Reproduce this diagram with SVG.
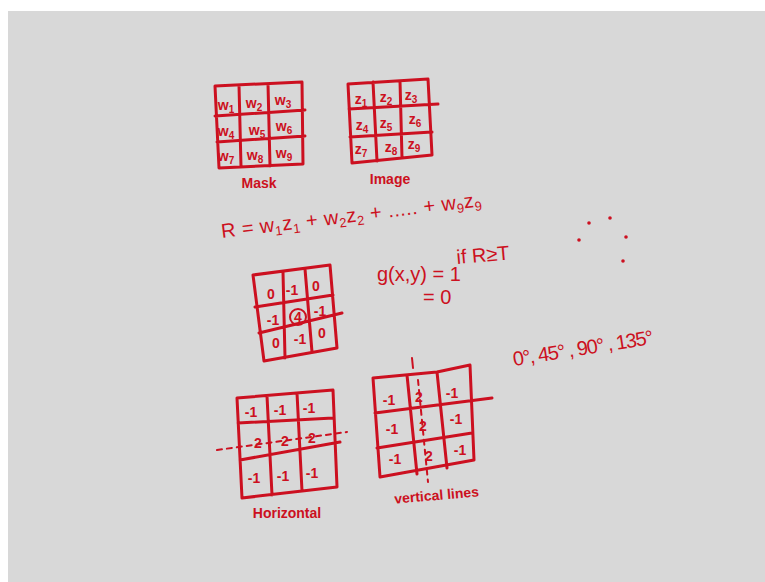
<svg xmlns="http://www.w3.org/2000/svg" width="765" height="582" viewBox="0 0 765 582">
<style>
.ln{fill:none;stroke:#cc1020;stroke-width:3;stroke-linecap:round;stroke-linejoin:round}
.ds{fill:none;stroke:#cc1020;stroke-width:2;stroke-dasharray:5 5;stroke-linecap:round}
.t{fill:#cc1020;font-family:"Liberation Sans",Arial,sans-serif;font-size:14px;text-anchor:middle;font-weight:bold}
.h{fill:#cc1020;font-family:"Liberation Sans",Arial,sans-serif;font-size:20px}
.dot{fill:#cc1020}
</style>
<rect x="0" y="0" width="765" height="582" fill="#ffffff"/>
<rect x="8" y="11" width="757" height="571" fill="#d8d8d8"/>

<g id="mask">
<path class="ln" d="M215,86 L302,82 L303,164 L219,168 Z M239,85 L241,167 M268,84 L270,166 M215,116 L305,110 M217,142 L305,136"/>
<text class="t" x="226" y="110">w<tspan font-size="10" dy="3">1</tspan></text>
<text class="t" x="254" y="108">w<tspan font-size="10" dy="3">2</tspan></text>
<text class="t" x="283" y="105">w<tspan font-size="10" dy="3">3</tspan></text>
<text class="t" x="226" y="136">w<tspan font-size="10" dy="3">4</tspan></text>
<text class="t" x="257" y="135">w<tspan font-size="10" dy="3">5</tspan></text>
<text class="t" x="284" y="131">w<tspan font-size="10" dy="3">6</tspan></text>
<text class="t" x="226" y="161">w<tspan font-size="10" dy="3">7</tspan></text>
<text class="t" x="255" y="160">w<tspan font-size="10" dy="3">8</tspan></text>
<text class="t" x="284" y="158">w<tspan font-size="10" dy="3">9</tspan></text>
<text class="t" x="259" y="188" font-size="15">Mask</text>
</g>

<g id="image">
<path class="ln" d="M348,84 L428,79 L432,155 L352,163 Z M373,82 L377,161 M400,81 L402,158 M349,109 L438,104 M350,137 L432,132"/>
<text class="t" x="361" y="104">z<tspan font-size="10" dy="3">1</tspan></text>
<text class="t" x="386" y="102">z<tspan font-size="10" dy="3">2</tspan></text>
<text class="t" x="411" y="100">z<tspan font-size="10" dy="3">3</tspan></text>
<text class="t" x="362" y="130">z<tspan font-size="10" dy="3">4</tspan></text>
<text class="t" x="386" y="128">z<tspan font-size="10" dy="3">5</tspan></text>
<text class="t" x="415" y="124">z<tspan font-size="10" dy="3">6</tspan></text>
<text class="t" x="361" y="154">z<tspan font-size="10" dy="3">7</tspan></text>
<text class="t" x="391" y="152">z<tspan font-size="10" dy="3">8</tspan></text>
<text class="t" x="414" y="149">z<tspan font-size="10" dy="3">9</tspan></text>
<text class="t" x="390" y="184" font-size="15">Image</text>
</g>

<g id="equation">
<text class="h" x="222" y="238" transform="rotate(-7 222 238)" textLength="262" lengthAdjust="spacing">R = w<tspan font-size="13" dy="4">1</tspan><tspan dy="-4">z</tspan><tspan font-size="13" dy="4">1</tspan><tspan dy="-4"> + w</tspan><tspan font-size="13" dy="4">2</tspan><tspan dy="-4">z</tspan><tspan font-size="13" dy="4">2</tspan><tspan dy="-4"> + ..... + w</tspan><tspan font-size="13" dy="4">9</tspan><tspan dy="-4">z</tspan><tspan font-size="13" dy="4">9</tspan></text>
</g>

<g id="dots">
<circle class="dot" cx="579" cy="240" r="1.8"/>
<circle class="dot" cx="589" cy="223" r="1.8"/>
<circle class="dot" cx="610" cy="218" r="1.8"/>
<circle class="dot" cx="626" cy="237" r="1.8"/>
<circle class="dot" cx="623" cy="261" r="1.8"/>
</g>

<g id="laplacian">
<path class="ln" d="M253,275 L330,265 L337,348 L264,361 Z M283,272 L285,358 M305,269 L312,352 M255,307 L333,295 M259,333 L342,313"/>
<circle class="ln" cx="298" cy="317" r="8" style="stroke-width:2"/>
<text class="t" x="271" y="299">0</text>
<text class="t" x="292" y="295">-1</text>
<text class="t" x="316" y="291">0</text>
<text class="t" x="273" y="325">-1</text>
<text class="t" x="298" y="322">4</text>
<text class="t" x="320" y="316">-1</text>
<text class="t" x="276" y="348">0</text>
<text class="t" x="300" y="344">-1</text>
<text class="t" x="322" y="338">0</text>
</g>

<g id="threshold">
<text class="h" x="377" y="281" font-size="18">g(x,y) = 1</text>
<text class="h" x="457" y="264" transform="rotate(-5 457 264)">if  R≥T</text>
<text class="h" x="423" y="304" font-size="17">= 0</text>
</g>

<g id="angles">
<text class="h" x="514" y="366" transform="rotate(-9 514 366)" textLength="142" lengthAdjust="spacing">0°, 45° , 90° , 135°</text>
</g>

<g id="horizontal">
<path class="ln" d="M237,398 L333,390 L337,487 L242,498 Z M267,396 L272,495 M297,393 L302,491 M238,423 L333,418 M240,460 L340,442"/>
<path class="ds" d="M217,450 L347,432"/>
<text class="t" x="251" y="417">-1</text>
<text class="t" x="280" y="415">-1</text>
<text class="t" x="309" y="413">-1</text>
<text class="t" x="258" y="448">2</text>
<text class="t" x="285" y="446">2</text>
<text class="t" x="312" y="443">2</text>
<text class="t" x="254" y="483">-1</text>
<text class="t" x="283" y="481">-1</text>
<text class="t" x="312" y="478">-1</text>
<text class="t" x="287" y="518" font-size="15">Horizontal</text>
</g>

<g id="vertical">
<path class="ln" d="M373,378 L437,372 L470,365 L474,460 L380,477 Z M407,375 L417,474 M437,372 L447,468 M375,413 L492,398 M377,448 L472,433"/>
<path class="ln" d="M412,358 L413,368" style="stroke-width:2"/>
<path class="ds" d="M418,380 L428,482"/>
<text class="t" x="389" y="405">-1</text>
<text class="t" x="419" y="402">2</text>
<text class="t" x="452" y="398">-1</text>
<text class="t" x="392" y="434">-1</text>
<text class="t" x="423" y="431">2</text>
<text class="t" x="456" y="424">-1</text>
<text class="t" x="395" y="464">-1</text>
<text class="t" x="429" y="461">2</text>
<text class="t" x="460" y="455">-1</text>
<text class="t" x="437" y="500" font-size="15" transform="rotate(-5 437 500)">vertical lines</text>
</g>
</svg>
